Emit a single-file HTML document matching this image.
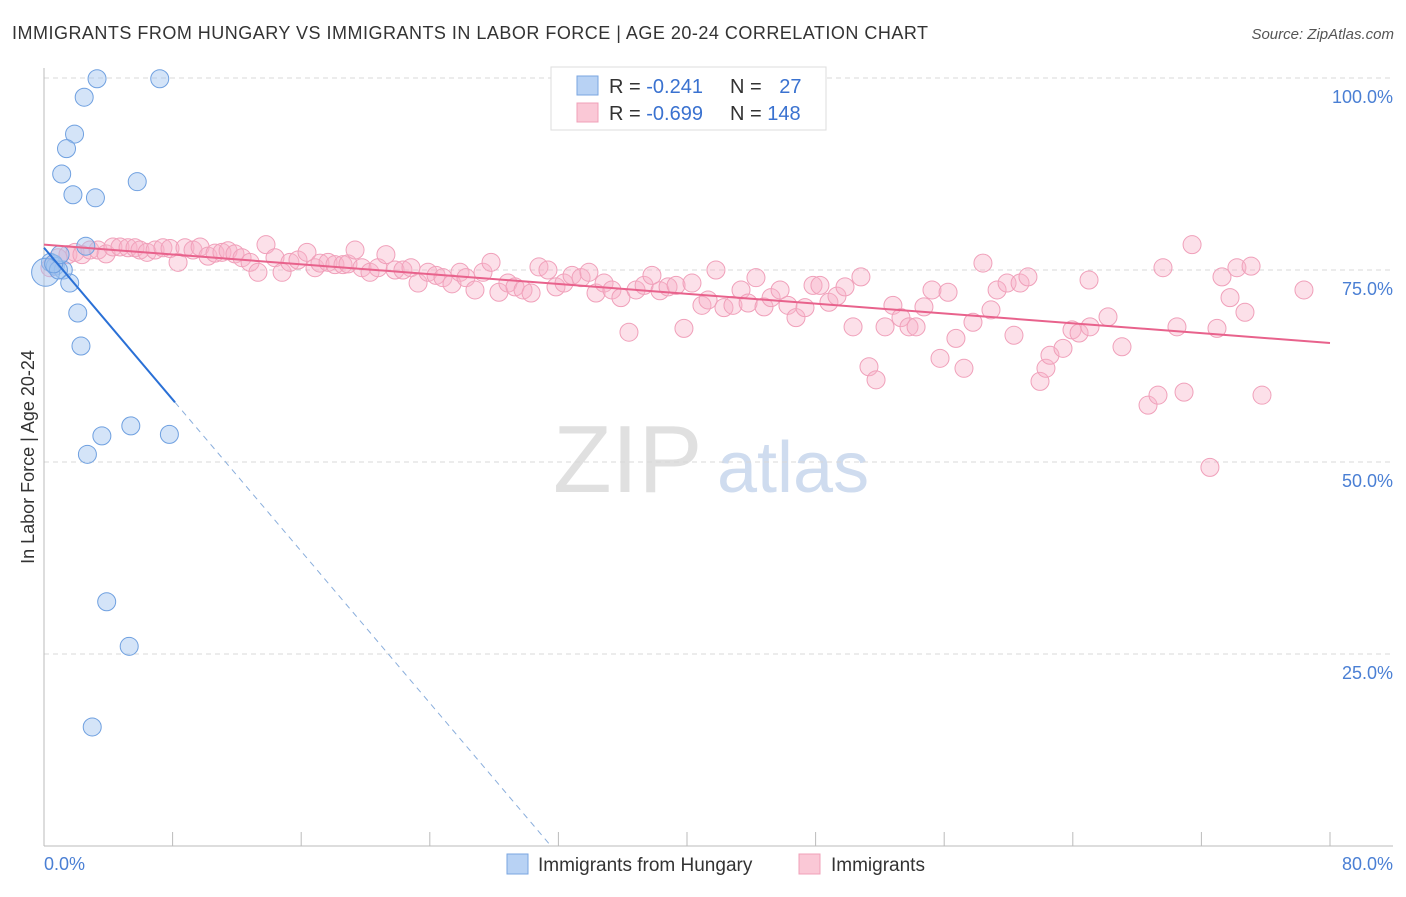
<!DOCTYPE html>
<html><head><meta charset="utf-8"><style>
body{margin:0;background:#fff;font-family:"Liberation Sans",sans-serif}
svg text{font-family:"Liberation Sans",sans-serif}
</style></head><body>
<svg id="c" width="1406" height="892" xmlns="http://www.w3.org/2000/svg">
<text x="12" y="39" font-size="18" fill="#333" textLength="916" lengthAdjust="spacing">IMMIGRANTS FROM HUNGARY VS IMMIGRANTS IN LABOR FORCE | AGE 20-24 CORRELATION CHART</text>
<text x="1394" y="39" font-size="15" fill="#555" font-style="italic" text-anchor="end">Source: ZipAtlas.com</text>
<g><text x="553" y="492" font-size="96" font-family="Liberation Serif" fill="#e0e0e0">ZIP</text><text x="717" y="492" font-size="72" fill="#cfdcef">atlas</text></g>
<g id="grid"></g><g id="axes"></g><g id="pink"></g><g id="blue"></g><g id="lines"></g>
<text transform="translate(34,457) rotate(-90)" font-size="18" fill="#333" text-anchor="middle">In Labor Force | Age 20-24</text>
<text x="44" y="870" font-size="18" fill="#4a7fd4">0.0%</text>
<text x="1393" y="870" font-size="18" fill="#4a7fd4" text-anchor="end">80.0%</text>
<g>
<rect x="551" y="67" width="275" height="63" fill="#fff" stroke="#ddd"/>
<rect x="577" y="76" width="21" height="19" fill="#b8d2f4" stroke="#7aa6e0"/>
<rect x="577" y="103" width="21" height="19" fill="#fac8d6" stroke="#f0a0b8"/>
<text x="609" y="93" font-size="20" fill="#333">R = <tspan fill="#3a72d0">-0.241</tspan></text>
<text x="730" y="93" font-size="20" fill="#333">N = <tspan fill="#3a72d0" dx="12">27</tspan></text>
<text x="609" y="120" font-size="20" fill="#333">R = <tspan fill="#3a72d0">-0.699</tspan></text>
<text x="730" y="120" font-size="20" fill="#333">N = <tspan fill="#3a72d0">148</tspan></text>
</g>
<g>
<rect x="507" y="854" width="21" height="20" fill="#b8d2f4" stroke="#7aa6e0"/>
<text x="538" y="871" font-size="19" fill="#333">Immigrants from Hungary</text>
<rect x="799" y="854" width="21" height="20" fill="#fac8d6" stroke="#f0a0b8"/>
<text x="831" y="871" font-size="19" fill="#333">Immigrants</text>
</g>
</svg>
<script>
const blueX=[3.3,7.2,2.5,1.9,1.4,1.1,1.8,3.2,5.8,2.6,0.4,0.7,1.2,1.6,2.1,2.3,5.4,3.6,7.8,2.7,3.9,5.3,3.0,0.1,0.9,0.6,1.0];
const blueY=[99.9,99.9,97.5,92.7,90.8,87.5,84.8,84.4,86.5,78.1,76.0,75.5,75.0,73.3,69.4,65.1,54.7,53.4,53.6,51.0,31.8,26.0,15.5,74.7,75.0,75.8,77.0];
const pinkX=[0.37,0.87,1.49,1.93,2.36,2.86,3.36,3.86,4.29,4.73,5.23,5.66,5.97,6.41,6.91,7.40,7.84,8.34,8.77,9.27,9.71,10.2,10.64,11.07,11.45,11.88,12.32,12.82,13.31,13.81,14.37,14.81,15.3,15.8,16.36,16.86,17.17,17.67,18.1,18.6,18.91,19.35,19.78,20.28,20.78,21.27,21.84,22.33,22.83,23.27,23.89,24.39,24.82,25.38,25.88,26.25,26.81,27.31,27.81,28.3,28.86,29.3,29.8,30.3,30.79,31.35,31.85,32.35,32.85,33.41,33.9,34.34,34.84,35.33,35.89,36.39,36.83,37.33,37.82,38.32,38.82,39.32,39.81,40.31,40.93,41.31,41.8,42.3,42.86,43.36,43.8,44.29,44.79,45.23,45.79,46.28,46.78,47.34,47.84,48.27,48.83,49.33,49.83,50.33,50.82,51.32,51.76,52.32,52.81,53.31,53.81,54.25,54.74,55.24,55.74,56.24,56.73,57.23,57.79,58.41,58.91,59.29,59.91,60.34,60.72,61.21,61.96,62.33,62.58,63.39,63.95,64.39,65.07,65.01,66.19,67.06,68.68,69.3,69.61,70.48,70.92,71.42,72.53,72.97,73.28,73.78,74.21,74.71,75.09,75.77,78.38];
const pinkY=[75.3,76.6,77.0,77.3,77.0,77.6,77.6,77.1,78.0,78.0,77.9,77.9,77.6,77.3,77.6,77.9,77.8,76.0,77.9,77.6,78.0,76.8,77.2,77.3,77.5,77.1,76.6,76.0,74.7,78.3,76.6,74.7,76.0,76.3,77.3,75.3,75.9,76.0,75.7,75.7,75.8,77.6,75.3,74.7,75.3,77.0,75.0,75.0,75.3,73.3,74.7,74.3,74.0,73.2,74.7,74.0,72.4,74.7,76.0,72.1,73.3,72.8,72.4,72.0,75.4,75.0,72.8,73.3,74.3,74.0,74.7,72.0,73.3,72.4,71.4,66.9,72.4,73.0,74.3,72.3,72.8,73.0,67.4,73.3,70.4,71.1,75.0,70.1,70.4,72.4,70.7,74.0,70.2,71.4,72.4,70.4,68.8,70.1,73.0,73.0,70.8,71.6,72.8,67.6,74.1,62.4,60.7,67.6,70.4,68.8,67.6,67.6,70.2,72.4,63.5,72.1,66.1,62.2,68.2,75.9,69.8,72.4,73.3,66.5,73.3,74.1,60.5,62.2,63.9,64.8,67.2,66.8,67.6,73.7,68.9,65.0,57.4,58.7,75.3,67.6,59.1,78.3,49.3,67.4,74.1,71.4,75.3,69.5,75.5,58.7,72.4];
const yTicks=[100,75,50,25];
const blueTrend=[77.9,-2.47];
const pinkTrend=[78.3,65.5];
const X0=44,X1=1330,Y0=846,YS=7.68;
const sx=v=>X0+v/80*(X1-X0), sy=v=>Y0-v*YS;
const NS="http://www.w3.org/2000/svg";
function mk(t,a,p){const e=document.createElementNS(NS,t);for(const k in a)e.setAttribute(k,a[k]);p.appendChild(e);return e;}
const grid=document.getElementById('grid');
yTicks.forEach(t=>{
 const l=mk('line',{x1:X0,x2:1393,y1:sy(t),y2:sy(t),stroke:'#d8d8d8','stroke-dasharray':'5,4'},grid);
 
 
 const tx=mk('text',{x:1393,y:sy(t)+25,'font-size':18,fill:'#4a7fd4','text-anchor':'end'},grid);
 tx.textContent=t.toFixed(1)+'%';
 
 
});
const axes=document.getElementById('axes');
mk('line',{x1:X0,x2:X0,y1:68,y2:Y0,stroke:'#bbb'},axes);
mk('line',{x1:X0,x2:1393,y1:Y0,y2:Y0,stroke:'#bbb'},axes);
for(let i=0;i<=10;i++){const t=mk('line',{x1:sx(i*8),x2:sx(i*8),y1:832,y2:Y0,stroke:'#bbb'},axes);
 
 }
const pg=document.getElementById('pink');
pinkX.forEach((x,i)=>{const c=mk('circle',{cx:sx(x),cy:sy(pinkY[i]),r:9,fill:'rgba(248,178,200,0.4)',stroke:'#f0a0ba','stroke-width':1},pg);
 
 });
const bg=document.getElementById('blue');
blueX.forEach((x,i)=>{const c=mk('circle',{cx:sx(x),cy:sy(blueY[i]),r:i==23?14:9,fill:'rgba(160,196,240,0.45)',stroke:'#6fa0e0','stroke-width':1},bg);
 
 });
const lg=document.getElementById('lines');
const bx1=8.15, bx2=-blueTrend[0]/blueTrend[1];
const b1=mk('line',{x1:sx(0),y1:sy(blueTrend[0]),x2:sx(bx1),y2:sy(blueTrend[0]+blueTrend[1]*bx1),stroke:'#2a70d6','stroke-width':2},lg);


const b2=mk('line',{x1:sx(bx1),y1:sy(blueTrend[0]+blueTrend[1]*bx1),x2:sx(bx2),y2:sy(0),stroke:'#8aaedc','stroke-width':1,'stroke-dasharray':'6,5'},lg);


const p1=mk('line',{x1:sx(0),y1:sy(pinkTrend[0]),x2:sx(80),y2:sy(pinkTrend[1]),stroke:'#e8628c','stroke-width':2},lg);


</script>
</body></html>
